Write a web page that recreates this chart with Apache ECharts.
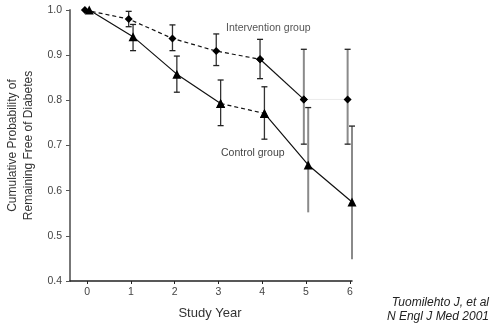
<!DOCTYPE html>
<html><head><meta charset="utf-8">
<script src="https://cdn.jsdelivr.net/npm/echarts@6/dist/echarts.min.js"></script>
<style>html,body{margin:0;padding:0;background:#fff}#c{width:491px;height:324px}</style>
</head><body><div id="c"></div>
<script>
var years = [0, 1, 2, 3, 4, 5, 6];
var interventionMean = [1.0, 0.98, 0.937, 0.909, 0.891, 0.802, 0.802];
var interventionHigh = [1.0, 0.997, 0.967, 0.947, 0.935, 0.913, 0.913];
var interventionLow  = [1.0, 0.963, 0.91, 0.877, 0.848, 0.703, 0.703];
var controlMean = [1.0, 0.941, 0.858, 0.793, 0.771, 0.657, 0.575];
var controlHigh = [1.0, 0.968, 0.898, 0.845, 0.830, 0.784, 0.743];
var controlLow  = [1.0, 0.91, 0.818, 0.744, 0.714, 0.552, 0.448];
var yTicks = [0.4, 0.5, 0.6, 0.7, 0.8, 0.9, 1.0];

var dI = -0.05, dC = 0.05;
function pts(mean, d, from, to) {
  var out = [];
  for (var i = from; i <= to; i++) out.push([years[i] + d, mean[i]]);
  return out;
}
function bars(mean, lo, hi, d, isCtrl) {
  var out = [];
  for (var i = 1; i < years.length; i++) out.push([years[i] + d, lo[i], hi[i], i, isCtrl ? 1 : 0]);
  return out;
}
function errRender(params, api) {
  var x = api.value(0), lo = api.value(1), hi = api.value(2), idx = api.value(3), ctrl = api.value(4);
  var pHi = api.coord([x, hi]), pLo = api.coord([x, lo]);
  var late = idx >= 5;
  var col = late ? '#8a8a8a' : '#333';
  var w = late ? 2 : 1.3;
  var ch = [{type:'line', shape:{x1:pHi[0], y1:pHi[1], x2:pLo[0], y2:pLo[1]}, style:{stroke:col, lineWidth:w}},
            {type:'line', shape:{x1:pHi[0]-3, y1:pHi[1], x2:pHi[0]+3, y2:pHi[1]}, style:{stroke:'#222', lineWidth:1.3}}];
  if (!(ctrl && late)) ch.push({type:'line', shape:{x1:pLo[0]-3, y1:pLo[1], x2:pLo[0]+3, y2:pLo[1]}, style:{stroke:'#222', lineWidth:1.3}});
  return {type:'group', children: ch};
}
var font = 'Liberation Sans, Arial, sans-serif';
var chart = echarts.init(document.getElementById('c'), null, {renderer:'canvas'});
function lineS(data, type, sym, size, color, width) {
  return {type:'line', data:data, symbol:sym, symbolSize:size, showSymbol:true, z:3,
    itemStyle:{color:'#000'}, lineStyle:{color:color||'#111', width:width||1.2, type:type}, animation:false, silent:true};
}
chart.setOption({
  animation:false,
  grid:{left:70, top:10, width:282, height:271, containLabel:false, outerBoundsMode:'none'},
  xAxis:{type:'value', min:-0.39, max:6.05,
    axisLine:{onZero:false, lineStyle:{color:'#222', width:1.5}},
    axisTick:{show:true, inside:false, length:3, lineStyle:{color:'#222'}, customValues:years},
    axisLabel:{customValues:years, color:'#444', fontSize:10.5, fontFamily:font, margin:6},
    splitLine:{show:false}},
  yAxis:{type:'value', min:0.4, max:1.0, interval:0.1,
    axisLine:{show:true, onZero:false, lineStyle:{color:'#777', width:2}},
    axisTick:{show:true, length:4, lineStyle:{color:'#555'}},
    axisLabel:{color:'#444', fontSize:10.5, fontFamily:font, margin:8, formatter:function(v){return v.toFixed(1);}},
    splitLine:{show:false},
    name:'Cumulative Probability of\nRemaining Free of Diabetes', nameLocation:'middle', nameGap:31, nameRotate:90,
    nameTextStyle:{color:'#333', fontSize:12, fontFamily:font, lineHeight:16}},
  series:[
    {type:'custom', renderItem:errRender, data:bars(interventionMean, interventionLow, interventionHigh, dI, false), z:2, silent:true},
    {type:'custom', renderItem:errRender, data:bars(controlMean, controlLow, controlHigh, dC, true), z:2, silent:true},
    lineS(pts(interventionMean, dI, 0, 4), [4,3], 'diamond', 8),
    lineS(pts(interventionMean, dI, 4, 5), 'solid', 'diamond', 8),
    lineS(pts(interventionMean, dI, 5, 6), 'solid', 'diamond', 8, '#e4e4e4', 0.8),
    lineS(pts(controlMean, dC, 0, 3), 'solid', 'triangle', 9),
    lineS(pts(controlMean, dC, 3, 4), [4,3], 'triangle', 9),
    lineS(pts(controlMean, dC, 4, 6), 'solid', 'triangle', 9)
  ],
  graphic:[
    {type:'text', x:210, y:313, style:{text:'Study Year', fill:'#333', font:'13px '+font, align:'center', verticalAlign:'middle'}},
    {type:'text', x:226, y:28, style:{text:'Intervention group', fill:'#555', font:'10.5px '+font, verticalAlign:'middle'}},
    {type:'text', x:221, y:153, style:{text:'Control group', fill:'#444', font:'10.5px '+font, verticalAlign:'middle'}},
    {type:'text', x:489, y:303, style:{text:'Tuomilehto J, et al', fill:'#222', font:'italic 12px '+font, align:'right', verticalAlign:'middle'}},
    {type:'text', x:489, y:317, style:{text:'N Engl J Med 2001', fill:'#222', font:'italic 12px '+font, align:'right', verticalAlign:'middle'}}
  ]
});
</script></body></html>
